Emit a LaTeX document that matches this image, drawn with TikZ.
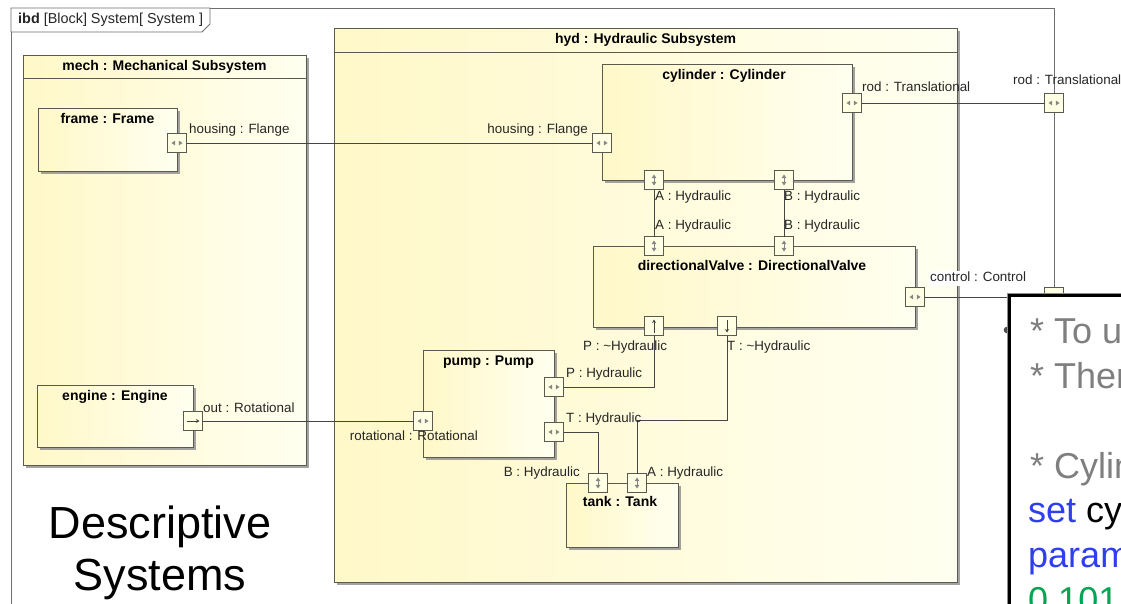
\documentclass[tikz,border=0pt]{standalone}
\usepackage{fontspec}
\setmainfont{Liberation Sans}
\usetikzlibrary{shadows,arrows.meta}
\definecolor{frameline}{HTML}{6E6E6E}
\definecolor{blkline}{HTML}{5A5A50}
\definecolor{blkL}{HTML}{FFF8C8}
\definecolor{blkR}{HTML}{FFFFF0}
\definecolor{portfill}{HTML}{FFFFE4}
\definecolor{glyph}{HTML}{858585}
\definecolor{wire}{HTML}{454545}
\definecolor{notegray}{HTML}{7F7F7F}
\definecolor{noteblue}{HTML}{2E3EF0}
\definecolor{notegreen}{HTML}{00A651}
\begin{document}
\begin{tikzpicture}[x=1pt,y=-1pt,
  blk/.style={draw=blkline, line width=0.9pt, left color=blkL, right color=blkR,
    inner sep=0pt, outer sep=0pt,
    drop shadow={shadow xshift=2.5pt, shadow yshift=-2.5pt, fill=black!45, opacity=0.8}},
  ttl/.style={font=\bfseries\fontsize{14}{16}\selectfont, inner sep=0pt, text height=10pt, text depth=3pt},
  lbl/.style={font=\fontsize{13.4}{15}\selectfont, text=black!85, inner sep=0pt, text height=10pt, text depth=3pt},
  port/.style={draw=blkline, fill=portfill, line width=0.8pt, minimum width=19pt,
    minimum height=19pt, inner sep=0pt, outer sep=0pt},
  hport/.style={port, path picture={
    \fill[glyph] ([xshift=-5.5pt]path picture bounding box.center) -- ++(3.6,-2.4) -- ++(0,4.8) -- cycle;
    \fill[glyph] ([xshift=5.5pt]path picture bounding box.center) -- ++(-3.6,-2.4) -- ++(0,4.8) -- cycle;}},
  vport/.style={port, path picture={
    \fill[glyph] ([yshift=5.5pt]path picture bounding box.center) -- ++(-2.4,3.6) -- ++(4.8,0) -- cycle;
    \fill[glyph] ([yshift=-5.5pt]path picture bounding box.center) -- ++(-2.4,-3.6) -- ++(4.8,0) -- cycle;
    \draw[glyph, line width=0.6pt] ([yshift=2pt]path picture bounding box.center) -- ([yshift=-2pt]path picture bounding box.center);}},
  upport/.style={port, path picture={
    \draw[black!75, line width=0.8pt, -{Stealth[length=3.5pt,width=4pt]}]
      ([yshift=-6.5pt]path picture bounding box.center) -- ([yshift=6.5pt]path picture bounding box.center);}},
  downport/.style={port, path picture={
    \draw[black!75, line width=0.8pt, -{Stealth[length=3.5pt,width=4pt]}]
      ([yshift=6.5pt]path picture bounding box.center) -- ([yshift=-6.5pt]path picture bounding box.center);}},
  outport/.style={port, path picture={
    \draw[black!75, line width=0.8pt, -{Stealth[length=3.5pt,width=4pt]}]
      ([xshift=-6.5pt]path picture bounding box.center) -- ([xshift=6.5pt]path picture bounding box.center);}},
  wire/.style={draw=wire, line width=0.8pt},
  notetxt/.style={font=\fontsize{36}{44}\selectfont, inner sep=0pt, anchor=base west}
]
\useasboundingbox (0,0) rectangle (1121,603);
\begin{scope}
\clip (0,0) rectangle (1121,603);
\fill[white] (0,0) rectangle (1121,603);

% diagram frame with its name tab
\draw[frameline, line width=0.8pt] (11,640) -- (11,8) -- (1054,8) -- (1054,640);
\draw[frameline, line width=0.8pt, fill=white] (11,8) -- (210,8) -- (210,24) -- (202,32) -- (11,32) -- cycle;
\node[lbl, anchor=west, font=\fontsize{14.4}{16}\selectfont] (ibd) at (18,20) {\textbf{ibd} [Block] System[ System ]};

% mechanical subsystem
\node[blk, minimum width=283pt, minimum height=410pt] (mech) at (164.5,260) {};
\draw[blkline, line width=0.9pt] (mech.west |- 0,78) -- (mech.east |- 0,78);
\node[ttl] (mechT) at (164.5,67) {mech : Mechanical Subsystem};

\node[blk, minimum width=139pt, minimum height=63pt] (frame) at (107.5,139.5) {};
\node[ttl] (frameT) at (107.5,120) {frame : Frame};

\node[blk, minimum width=156pt, minimum height=62pt] (engine) at (115,416) {};
\node[ttl] (engineT) at (115,397) {engine : Engine};

% hydraulic subsystem
\node[blk, minimum width=623pt, minimum height=554pt] (hyd) at (645.5,305) {};
\draw[blkline, line width=0.9pt] (hyd.west |- 0,52) -- (hyd.east |- 0,52);
\node[ttl] (hydT) at (645.5,40) {hyd : Hydraulic Subsystem};

\node[blk, minimum width=250pt, minimum height=116pt] (cyl) at (727,122) {};
\node[ttl] (cylT) at (724,76) {cylinder : Cylinder};

\node[blk, minimum width=322pt, minimum height=81pt] (valve) at (754,286.5) {};
\node[ttl] (valveT) at (752,267) {directionalValve : DirectionalValve};

\node[blk, minimum width=131pt, minimum height=107pt] (pump) at (488.5,403.5) {};
\node[ttl] (pumpT) at (488.5,362) {pump : Pump};

\node[blk, minimum width=112pt, minimum height=64pt] (tank) at (622,515) {};
\node[ttl] (tankT) at (620,503) {tank : Tank};

% ports
\node[hport] (frameH) at (177,143) {};
\node[outport] (engOut) at (193,421) {};
\node[hport] (cylH) at (602,143) {};
\node[hport] (cylRod) at (852,103) {};
\node[vport] (cylA) at (654,180) {};
\node[vport] (cylB) at (784,180) {};
\node[vport] (valA) at (654,246) {};
\node[vport] (valB) at (784,246) {};
\node[hport] (valCtl) at (915,297) {};
\node[upport] (valP) at (654,326) {};
\node[downport] (valT) at (727,326) {};
\node[hport] (pumpRot) at (423,421) {};
\node[hport] (pumpP) at (554,387) {};
\node[hport] (pumpT) at (554,432) {};
\node[vport] (tankB) at (598,483) {};
\node[vport] (tankA) at (637,483) {};
\node[hport] (sysRod) at (1054,103) {};
\node[port] (sysCtl) at (1054,297) {};

% connectors
\coordinate (tBend) at (637,420);
\draw[wire] (frameH.east) -- (cylH.west);
\draw[wire] (engOut.east) -- (pumpRot.west);
\draw[wire] (cylRod.east) -- (sysRod.west);
\draw[wire] (valCtl.east) -- (sysCtl.west);
\draw[wire] (cylA.south) -- (valA.north);
\draw[wire] (cylB.south) -- (valB.north);
\draw[wire] (pumpP.east) -| (valP.south);
\draw[wire] (valT.south) |- (tBend) -- (tankA.north);
\draw[wire] (pumpT.east) -| (tankB.north);

% port labels
\node[lbl, anchor=west] (lFrameH) at (189,130) {housing : Flange};
\node[lbl, anchor=east] (lCylH) at (588,130) {housing : Flange};
\node[lbl, anchor=west] (lCylRod) at (862,88) {rod : Translational};
\node[lbl, anchor=west] (lCylA) at (655,197) {A : Hydraulic};
\node[lbl, anchor=west] (lCylB) at (784,197) {B : Hydraulic};
\node[lbl, anchor=west] (lValA) at (655,226) {A : Hydraulic};
\node[lbl, anchor=west] (lValB) at (784,226) {B : Hydraulic};
\node[lbl, anchor=west, fill=white, inner sep=1pt] (lValCtl) at (929,278) {control : Control};
\node[lbl, anchor=west] (lValP) at (583,347) {P : \textasciitilde Hydraulic};
\node[lbl, anchor=west] (lValT) at (727,347) {T : \textasciitilde Hydraulic};
\node[lbl, anchor=west] (lPumpP) at (566,374) {P : Hydraulic};
\node[lbl, anchor=west] (lPumpT) at (566,419) {T : Hydraulic};
\node[lbl, anchor=east] (lPumpRot) at (478,437) {rotational : Rotational};
\node[lbl, anchor=west] (lEngOut) at (203,409) {out : Rotational};
\node[lbl, anchor=east] (lTankB) at (580,473) {B : Hydraulic};
\node[lbl, anchor=west] (lTankA) at (647,473) {A : Hydraulic};
\node[lbl, anchor=west] (lSysRod) at (1013,81) {rod : Translational};

% caption
\node[font=\fontsize{45}{52}\selectfont, inner sep=0pt, anchor=base] (cap1) at (160,538) {Descriptive};
\node[font=\fontsize{45}{52}\selectfont, inner sep=0pt, anchor=base] (cap2) at (160,590) {Systems};

% note box
\fill[black!70] (1007,330) circle (3.3);
\draw[black!45, line width=0.8pt, fill=white] (1007,293) rectangle (1140,620);
\draw[black, line width=2.4pt] (1009.6,295.6) rectangle (1140,620);
\node[notetxt, text=notegray] (n1) at (1030,343) {* To u};
\node[notetxt, text=notegray] (n2) at (1030,388) {* Then};
\node[notetxt, text=notegray] (n3) at (1030,478) {* Cylin};
\node[notetxt] (n4) at (1028,522) {\textcolor{noteblue}{set} cy};
\node[notetxt, text=noteblue] (n5) at (1028,567) {param};
\node[notetxt, text=notegreen] (n6) at (1028,612) {0.101};
\end{scope}
\end{tikzpicture}
\end{document}
